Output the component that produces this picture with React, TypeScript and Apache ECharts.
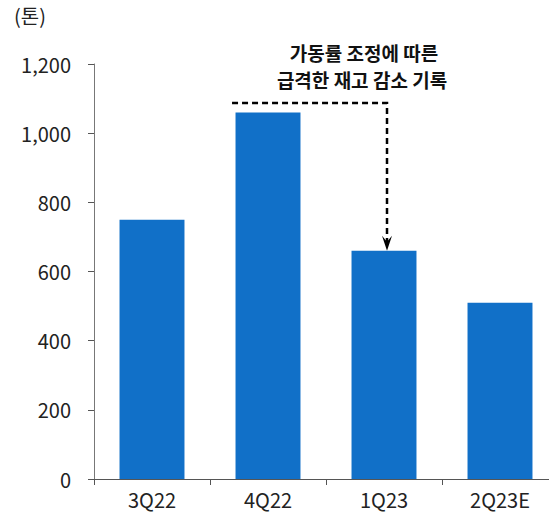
import React, { useEffect, useRef } from "react";
import * as echarts from "echarts";

const categories = ["3Q22", "4Q22", "1Q23", "2Q23E"];
const values = [750, 1060, 660, 510];
const unitLabel = "(톤)";
const noteLines = ["가동률 조정에 따른", "급격한 재고 감소 기록"];
const dashLevel = 1087;

const FONT = "'Noto Sans CJK KR', 'Noto Sans', sans-serif";

export default function App() {
  const ref = useRef<HTMLDivElement>(null);
  useEffect(() => {
    if (!ref.current) return;
    document.body.style.margin = "0";
    const chart = echarts.init(ref.current, undefined, { renderer: "svg" });
    chart.setOption({
      animation: false,
      grid: {
        left: 94,
        top: 64,
        height: 415,
        width: 464,
        containLabel: false,
        outerBoundsMode: "none",
      },
      xAxis: {
        type: "category",
        data: categories,
        axisLine: { lineStyle: { color: "#555", width: 1 } },
        axisTick: { show: true, length: 6, lineStyle: { color: "#555" }, alignWithLabel: false },
        axisLabel: { color: "#222", fontSize: 20, fontFamily: FONT, margin: 10 },
      },
      yAxis: {
        type: "value",
        min: 0,
        max: 1200,
        interval: 200,
        splitLine: { show: false },
        axisLine: { show: true, lineStyle: { color: "#777", width: 1 } },
        axisTick: { show: true, length: 6, lineStyle: { color: "#555" } },
        axisLabel: {
          color: "#222",
          fontSize: 20,
          fontFamily: FONT,
          margin: 23,
          formatter: (v: number) => v.toLocaleString("en-US"),
        },
      },
      series: [
        {
          type: "bar",
          data: values,
          barWidth: "56%",
          itemStyle: { color: "#1170C8" },
        },
      ],
    });

    const p4 = chart.convertToPixel({ gridIndex: 0 }, [categories[1], dashLevel]) as number[];
    const p1 = chart.convertToPixel({ gridIndex: 0 }, [categories[2], dashLevel]) as number[];
    const pTip = chart.convertToPixel({ gridIndex: 0 }, [categories[2], values[2]]) as number[];
    const band = p1[0] - p4[0];
    const startX = p4[0] - band * 0.31;
    const ax = p1[0] + 3;
    const y0 = p4[1];
    const tipY = pTip[1];

    chart.setOption({
      graphic: [
        {
          type: "text",
          left: 14,
          top: 5,
          style: { text: unitLabel, fill: "#222", fontSize: 20, fontFamily: FONT },
        },
        {
          type: "text",
          x: 364,
          y: 52,
          style: {
            text: noteLines[0],
            fill: "#111",
            fontSize: 19,
            fontWeight: "bold",
            fontFamily: FONT,
            align: "center",
            verticalAlign: "middle",
          },
        },
        {
          type: "text",
          x: 362,
          y: 79,
          style: {
            text: noteLines[1],
            fill: "#111",
            fontSize: 19,
            fontWeight: "bold",
            fontFamily: FONT,
            align: "center",
            verticalAlign: "middle",
          },
        },
        {
          type: "polyline",
          shape: {
            points: [
              [startX, y0],
              [ax, y0],
              [ax, tipY - 8],
            ],
          },
          style: { stroke: "#000", lineWidth: 2.5, lineDash: [6, 4], fill: null },
        },
        {
          type: "polygon",
          shape: {
            points: [
              [ax - 5, tipY - 15],
              [ax, tipY - 9],
              [ax + 5, tipY - 15],
              [ax, tipY],
            ],
          },
          style: { fill: "#000" },
        },
      ],
    });

    return () => chart.dispose();
  }, []);
  return <div ref={ref} style={{ width: 549, height: 518 }} />;
}
